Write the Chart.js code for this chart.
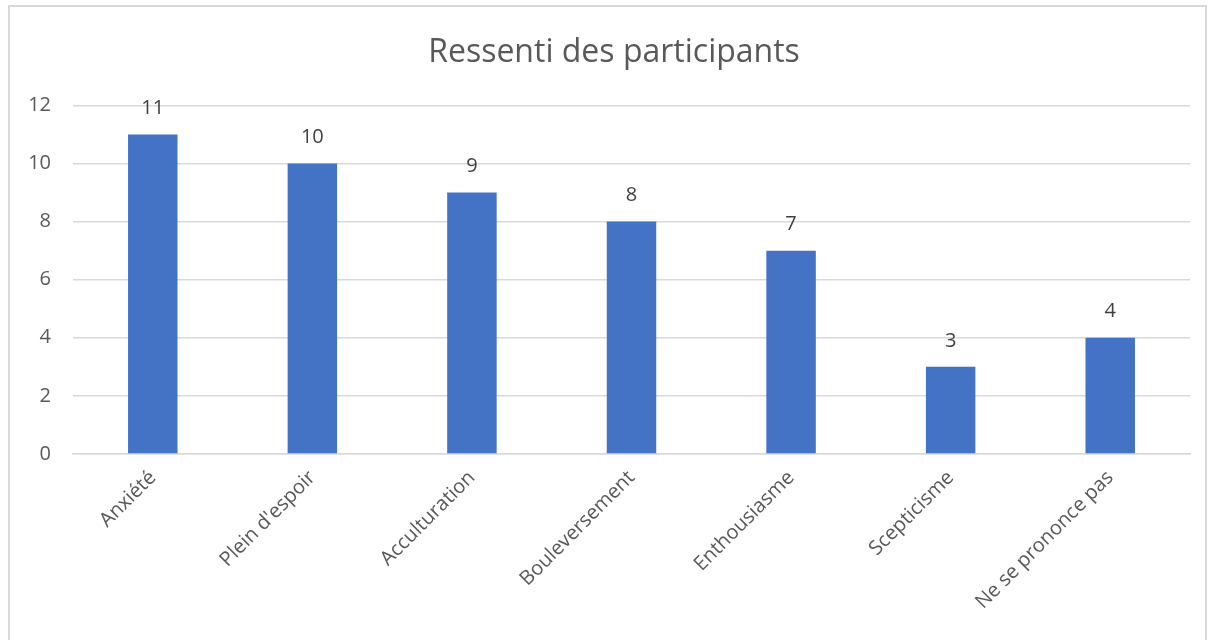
<!DOCTYPE html>
<html>
<head>
<meta charset="utf-8">
<script src="https://cdn.jsdelivr.net/npm/chart.js@4"></script>
<style>
    body { margin: 0; background: #fff; }
    #frame { position: absolute; left: 8px; top: 5px; width: 1199px; height: 660px; border: 2px solid #d9d9d9; box-sizing: border-box; }
    #wrap { position: absolute; left: 0; top: 0; width: 1214px; height: 640px; }
</style>
</head>
<body>
<div id="frame"></div>
<div id="wrap"><canvas id="barChart"></canvas></div>
<script>
const categories = ['Anxiété', "Plein d'espoir", 'Acculturation', 'Bouleversement', 'Enthousiasme', 'Scepticisme', 'Ne se prononce pas'];
const participants = [11, 10, 9, 8, 7, 3, 4];
const yTicks = [0, 2, 4, 6, 8, 10, 12];

const fontFamily = '"Open Sans", "Noto Sans", sans-serif';

// étiquettes de valeurs au-dessus des barres
const valueLabels = {
    id: 'valueLabels',
    afterDatasetsDraw(chart) {
        const ctx = chart.ctx;
        const meta = chart.getDatasetMeta(0);
        ctx.save();
        ctx.font = '20px ' + fontFamily;
        ctx.fillStyle = '#404040';
        ctx.textAlign = 'center';
        ctx.textBaseline = 'middle';
        meta.data.forEach(function (bar, i) {
            ctx.fillText(String(participants[i]), bar.x, bar.y - 26);
        });
        ctx.restore();
    }
};

document.addEventListener('DOMContentLoaded', function () {
    const ctx = document.getElementById('barChart').getContext('2d');
    new Chart(ctx, {
        type: 'bar',
        data: {
            labels: categories,
            datasets: [{
                label: 'Participants',
                data: participants,
                backgroundColor: '#4472C4',
                borderWidth: 0,
                barPercentage: 0.31,
                categoryPercentage: 1
            }]
        },
        options: {
            responsive: true,
            maintainAspectRatio: false,
            animation: false,
            layout: { padding: { top: 5, right: 0, left: 14, bottom: 22 } },
            plugins: {
                legend: { display: false },
                tooltip: { enabled: false },
                title: {
                    display: true,
                    text: 'Ressenti des participants',
                    color: '#595959',
                    font: { family: fontFamily, size: 32, weight: 'normal' },
                    padding: { top: 29, bottom: 33 }
                }
            },
            scales: {
                y: {
                    min: 0,
                    max: 12,
                    afterBuildTicks: function (axis) {
                        axis.ticks = yTicks.map(function (v) { return { value: v }; });
                    },
                    afterFit: function (axis) {
                        axis.width = 59;
                    },
                    grid: { color: '#d9d9d9', lineWidth: 1.5, drawTicks: false },
                    border: { display: false },
                    ticks: {
                        color: '#595959',
                        padding: 22,
                        font: { family: fontFamily, size: 20 }
                    }
                },
                // axe vide à droite, juste pour la marge
                yRight: {
                    position: 'right',
                    min: 0,
                    max: 12,
                    grid: { display: false },
                    border: { display: false },
                    ticks: { display: false },
                    afterFit: function (axis) {
                        axis.width = 24;
                    }
                },
                x: {
                    grid: { display: false },
                    border: { color: '#d9d9d9', width: 1.5 },
                    ticks: {
                        color: '#595959',
                        minRotation: 45,
                        maxRotation: 45,
                        padding: 4,
                        font: { family: fontFamily, size: 20 }
                    }
                }
            }
        },
        plugins: [valueLabels]
    });
});
</script>
</body>
</html>
